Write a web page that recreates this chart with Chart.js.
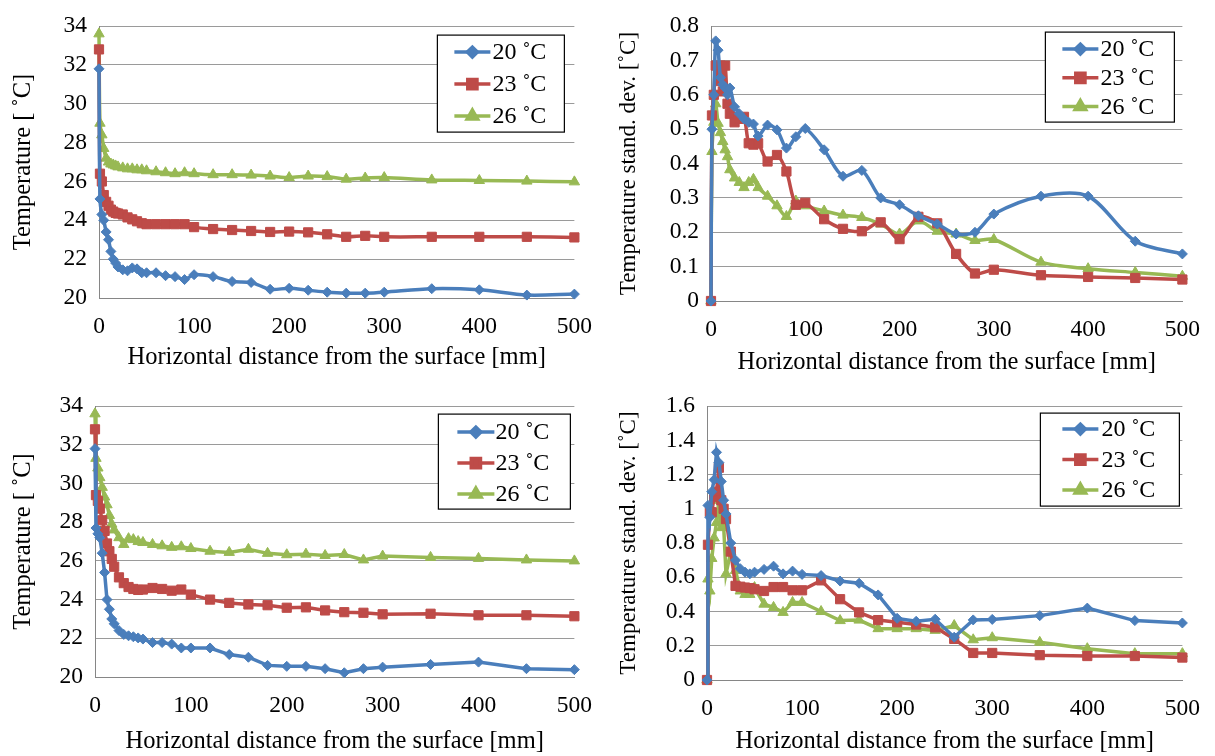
<!DOCTYPE html>
<html><head><meta charset="utf-8">
<script src="https://cdn.jsdelivr.net/npm/chart.js@4.4.1/dist/chart.umd.min.js"></script>
<style>
html,body{margin:0;padding:0;background:#fff;}
body{width:1215px;height:756px;position:relative;overflow:hidden;}
canvas{position:absolute;display:block;}
</style></head><body>
<canvas id="c1" width="607" height="380" style="left:0;top:0"></canvas>
<canvas id="c2" width="608" height="380" style="left:607px;top:0"></canvas>
<canvas id="c3" width="607" height="376" style="left:0;top:380px"></canvas>
<canvas id="c4" width="608" height="376" style="left:607px;top:380px"></canvas>
<script>
// ---- data ----
const distance = [0, 1, 3, 5, 7.5, 10, 12.5, 15, 17.5, 20, 25, 30, 35, 40, 45, 50, 60, 70, 80, 90, 100, 120, 140, 160, 180, 200, 220, 240, 260, 280, 300, 350, 400, 450, 500];
const seriesLabels = ['20 \u02DAC', '23 \u02DAC', '26 \u02DAC'];
const xTickValues = [0, 100, 200, 300, 400, 500];
const tempTickValues = [20, 22, 24, 26, 28, 30, 32, 34];
const sdTickValuesA = [0, 0.1, 0.2, 0.3, 0.4, 0.5, 0.6, 0.7, 0.8];
const sdTickValuesB = [0, 0.2, 0.4, 0.6, 0.8, 1, 1.2, 1.4, 1.6];
const xTitle = 'Horizontal distance from the surface [mm]';
const tempTitle = 'Temperature [ \u02DAC]';
const sdTitle = 'Temperature stand. dev. [\u02DAC]';

const tempA20 = [31.8, 25.1, 24.3, 24.0, 23.4, 23.0, 22.4, 22.0, 21.8, 21.6, 21.45, 21.4, 21.55, 21.5, 21.3, 21.3, 21.3, 21.15, 21.1, 20.95, 21.2, 21.1, 20.85, 20.8, 20.45, 20.5, 20.4, 20.3, 20.25, 20.25, 20.3, 20.48, 20.42, 20.15, 20.2];
const tempA23 = [32.8, 26.4, 26.0, 25.3, 24.95, 24.75, 24.55, 24.45, 24.38, 24.35, 24.3, 24.15, 24.05, 23.95, 23.85, 23.8, 23.8, 23.8, 23.8, 23.8, 23.65, 23.55, 23.5, 23.45, 23.4, 23.42, 23.38, 23.28, 23.15, 23.2, 23.15, 23.15, 23.15, 23.15, 23.12];
const tempA26 = [33.6, 29.0, 28.4, 27.7, 27.2, 27.0, 26.9, 26.85, 26.8, 26.75, 26.7, 26.65, 26.65, 26.6, 26.6, 26.55, 26.5, 26.45, 26.4, 26.45, 26.4, 26.35, 26.35, 26.33, 26.28, 26.2, 26.28, 26.25, 26.12, 26.18, 26.2, 26.08, 26.05, 26.02, 25.98];

const sdA20 = [0, 0.5, 0.6, 0.757, 0.73, 0.65, 0.63, 0.62, 0.6, 0.62, 0.565, 0.545, 0.53, 0.52, 0.515, 0.48, 0.512, 0.498, 0.445, 0.478, 0.502, 0.44, 0.363, 0.38, 0.30, 0.28, 0.248, 0.224, 0.195, 0.2, 0.253, 0.305, 0.305, 0.174, 0.137];
const sdA23 = [0, 0.54, 0.6, 0.685, 0.64, 0.685, 0.61, 0.685, 0.574, 0.545, 0.52, 0.53, 0.536, 0.459, 0.455, 0.459, 0.406, 0.425, 0.377, 0.28, 0.286, 0.238, 0.21, 0.203, 0.229, 0.18, 0.245, 0.226, 0.137, 0.08, 0.091, 0.075, 0.07, 0.067, 0.0625];
const sdA26 = [0, 0.435, 0.52, 0.574, 0.517, 0.49, 0.464, 0.44, 0.42, 0.382, 0.358, 0.345, 0.33, 0.345, 0.354, 0.33, 0.305, 0.277, 0.246, 0.291, 0.277, 0.262, 0.25, 0.243, 0.224, 0.195, 0.233, 0.203, 0.195, 0.176, 0.179, 0.113, 0.094, 0.083, 0.072];

const tempB20 = [31.8, 27.7, 27.4, 27.2, 26.4, 25.4, 24.0, 23.5, 23.0, 22.75, 22.4, 22.2, 22.13, 22.08, 22.02, 21.96, 21.78, 21.78, 21.7, 21.5, 21.5, 21.5, 21.16, 21.02, 20.6, 20.55, 20.55, 20.43, 20.22, 20.43, 20.51, 20.65, 20.77, 20.43, 20.38];
const tempB23 = [32.8, 29.4, 29.1, 28.7, 28.1, 27.55, 26.9, 26.5, 26.1, 25.7, 25.15, 24.85, 24.65, 24.55, 24.5, 24.52, 24.6, 24.55, 24.46, 24.52, 24.26, 24.0, 23.83, 23.75, 23.71, 23.58, 23.6, 23.44, 23.35, 23.32, 23.24, 23.27, 23.19, 23.19, 23.14];
const tempB26 = [33.6, 31.3, 30.8, 30.3, 29.8, 29.3, 28.9, 28.35, 27.9, 27.6, 27.2, 26.85, 27.15, 27.1, 27.0, 26.95, 26.85, 26.78, 26.7, 26.73, 26.64, 26.5, 26.44, 26.6, 26.39, 26.32, 26.35, 26.28, 26.33, 26.05, 26.25, 26.18, 26.13, 26.05, 26.0];

const sdB20 = [0, 1.02, 0.95, 1.1, 1.17, 1.33, 1.27, 1.16, 1.05, 0.97, 0.8, 0.7, 0.65, 0.63, 0.62, 0.63, 0.646, 0.665, 0.62, 0.636, 0.617, 0.61, 0.578, 0.565, 0.497, 0.36, 0.343, 0.355, 0.25, 0.351, 0.354, 0.376, 0.42, 0.347, 0.333];
const sdB23 = [0, 0.79, 0.98, 0.98, 1.07, 1.1, 1.24, 1.05, 1.0, 0.94, 0.75, 0.55, 0.545, 0.54, 0.537, 0.53, 0.52, 0.543, 0.543, 0.524, 0.524, 0.582, 0.472, 0.395, 0.35, 0.337, 0.324, 0.308, 0.24, 0.158, 0.158, 0.145, 0.14, 0.14, 0.131];
const sdB26 = [0, 0.59, 0.52, 0.71, 0.83, 0.92, 1.05, 0.89, 0.9, 0.62, 0.75, 0.64, 0.52, 0.5, 0.5, 0.54, 0.443, 0.424, 0.395, 0.453, 0.453, 0.40, 0.347, 0.35, 0.30, 0.30, 0.30, 0.29, 0.318, 0.235, 0.247, 0.22, 0.183, 0.154, 0.154];

// ---- styles ----
const colors = ['#4A7EBB', '#BE4B48', '#98B954'];
const pointStyles = ['rectRot', 'rect', 'triangle'];
const pointRadii = [5, 6.5, 6];
const FONT = 'Liberation Serif';
const gridColor = '#9a9a9a';
const axisColor = '#868686';

const boxLegend = {
  id: 'boxLegend',
  afterDatasetsDraw(chart, args, o) {
    const ctx = chart.ctx, ca = chart.chartArea;
    const left = ca.right - o.insetRight - o.width;
    const top = ca.top + o.insetTop;
    ctx.save();
    ctx.fillStyle = '#fff';
    ctx.fillRect(left, top, o.width, o.height);
    ctx.strokeStyle = '#000';
    ctx.lineWidth = 1.2;
    ctx.strokeRect(left, top, o.width, o.height);
    chart.data.datasets.forEach((ds, i) => {
      const cy = top + o.firstRow + i * o.rowStep;
      const x0 = left + o.lineStart, x1 = x0 + o.lineLen;
      ctx.strokeStyle = ds.borderColor;
      ctx.lineWidth = ds.borderWidth;
      ctx.beginPath(); ctx.moveTo(x0, cy); ctx.lineTo(x1, cy); ctx.stroke();
      ctx.fillStyle = ds.pointBackgroundColor;
      ctx.strokeStyle = ds.pointBorderColor;
      Chart.helpers.drawPoint(ctx, {pointStyle: ds.pointStyle, radius: ds.pointRadius, borderWidth: 1, rotation: 0}, (x0 + x1) / 2, cy);
      ctx.fillStyle = '#000';
      ctx.font = o.fontSize + 'px "' + FONT + '"';
      ctx.textBaseline = 'middle';
      ctx.textAlign = 'left';
      ctx.fillText(ds.label, left + o.textStart, cy + 1);
    });
    ctx.restore();
  }
};

function makeChart(id, values, yTicks, yTitle, tension, lay, leg) {
  const datasets = values.map((vals, i) => ({
    label: seriesLabels[i],
    data: distance.map((d, k) => ({x: d, y: vals[k]})),
    borderColor: colors[i],
    backgroundColor: colors[i],
    pointBackgroundColor: colors[i],
    pointBorderColor: colors[i],
    pointStyle: pointStyles[i],
    pointRadius: pointRadii[i],
    pointBorderWidth: 1,
    borderWidth: 3.5,
    tension: tension,
    clip: false
  }));
  const tickFont = {family: FONT, size: 23.5};
  const xTitleFont = {family: FONT, size: 24.5};
  const yTitleFont = {family: FONT, size: lay.yFont};
  return new Chart(document.getElementById(id), {
    type: 'line',
    data: {datasets},
    plugins: [boxLegend],
    options: {
      responsive: false,
      animation: false,
      events: [],
      layout: {padding: {top: lay.top, right: lay.right, left: 0, bottom: 0}},
      plugins: {legend: {display: false}, tooltip: {enabled: false}, boxLegend: leg},
      scales: {
        x: {
          type: 'linear', min: 0, max: 500,
          afterBuildTicks: s => { s.ticks = xTickValues.map(v => ({value: v})); },
          grid: {display: false, drawTicks: false},
          border: {display: true, color: axisColor, width: 1},
          ticks: {font: tickFont, color: '#000', padding: 15, maxRotation: 0, autoSkip: false},
          title: {display: true, text: xTitle, font: xTitleFont, color: '#000', padding: {top: 0, bottom: lay.xTitlePad}},
          afterFit: s => { s.height = lay.xH; }
        },
        y: {
          type: 'linear', min: yTicks[0], max: yTicks[yTicks.length - 1],
          afterBuildTicks: s => { s.ticks = yTicks.map(v => ({value: v})); },
          grid: {color: gridColor, drawTicks: false, lineWidth: 1},
          border: {display: true, color: axisColor, width: 1},
          ticks: {font: tickFont, color: '#000', padding: 12, callback: v => String(v)},
          title: {display: true, text: yTitle, font: yTitleFont, color: '#000', padding: {top: lay.yTitlePad, bottom: 0}},
          afterFit: s => { s.width = lay.yW; }
        }
      }
    }
  });
}

makeChart('c1', [tempA20, tempA23, tempA26], tempTickValues, tempTitle, 0.3,
  {top: 23, right: 29, yW: 99, xH: 82, xTitlePad: 8, yTitlePad: 9, yFont: 24.5},
  {insetRight: 10, insetTop: 9, width: 127, height: 97, firstRow: 17, rowStep: 32, lineStart: 17, lineLen: 36, textStart: 55, fontSize: 24});
makeChart('c2', [sdA20, sdA23, sdA26], sdTickValuesA, sdTitle, 0.3,
  {top: 23, right: 28, yW: 104, xH: 79, xTitlePad: 3, yTitlePad: 8, yFont: 23},
  {insetRight: 8, insetTop: 6, width: 129, height: 90, firstRow: 17, rowStep: 28.7, lineStart: 17, lineLen: 36, textStart: 55, fontSize: 24});
makeChart('c3', [tempB20, tempB23, tempB26], tempTickValues, tempTitle, 0,
  {top: 23, right: 30, yW: 95, xH: 79, xTitlePad: 0, yTitlePad: 9, yFont: 24.5},
  {insetRight: 4, insetTop: 8, width: 132, height: 95, firstRow: 18, rowStep: 31, lineStart: 19, lineLen: 37, textStart: 57, fontSize: 24});
makeChart('c4', [sdB20, sdB23, sdB26], sdTickValuesB, sdTitle, 0,
  {top: 23, right: 28, yW: 100, xH: 76, xTitlePad: 0, yTitlePad: 8, yFont: 23},
  {insetRight: 3, insetTop: 7, width: 139, height: 93, firstRow: 16, rowStep: 30.5, lineStart: 22, lineLen: 36, textStart: 61, fontSize: 24});
</script>
</body></html>
